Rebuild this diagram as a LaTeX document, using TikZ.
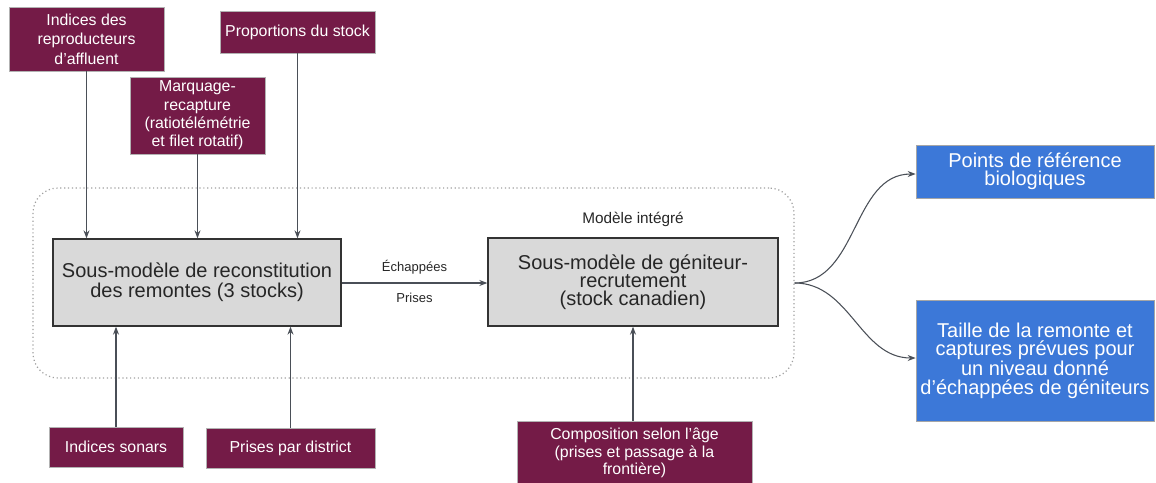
\documentclass[tikz,border=0pt]{standalone}
\usepackage{fontspec}
\setmainfont{Liberation Sans}
\usetikzlibrary{arrows.meta}
\usetikzlibrary{positioning}

\definecolor{sourcefill}{HTML}{741B47}
\definecolor{resultfill}{HTML}{3C78D8}
\definecolor{modelfill}{HTML}{D9D9D9}
\definecolor{linkgray}{HTML}{4A4F57}

\begin{document}
\begin{tikzpicture}[
    x=0.75pt, y=-0.75pt,
    source/.style={draw=gray!60, line width=0.5pt, fill=sourcefill, text=white, align=center, inner sep=0pt, font=\fontsize{11.9}{14.5}\selectfont},
    submodel/.style={draw=black!80, line width=1pt, fill=modelfill, text=black!85, align=center, inner sep=0pt, font=\fontsize{15}{15}\selectfont},
    result/.style={draw=gray!70, line width=0.5pt, fill=resultfill, text=white, align=center, inner sep=0pt, font=\fontsize{15}{13.8}\selectfont},
    link/.style={-{Stealth[length=6pt, width=4.5pt]}, draw=linkgray, line width=0.8pt},
    linklabel/.style={font=\fontsize{9.75}{10}\selectfont, text=black!85}
]

    \useasboundingbox (0,0) rectangle (1156,482);

    % Integrated model (dotted frame)
    \node (integ) [draw=gray!75, dotted, line width=0.9pt, rounded corners=18.75pt, minimum width=570.75pt, minimum height=142.5pt] at (413.5,283) {};
    \node (integlabel) [font=\fontsize{11.5}{12}\selectfont, text=black!85] at (633,219) {Modèle intégré};

    % Sub-models
    \node (reco) [submodel, minimum width=216pt, minimum height=65.25pt] at (197,282.5) {Sous-modèle de reconstitution\\des remontes (3 stocks)};
    \node (geni) [submodel, minimum width=217.5pt, minimum height=66pt, font=\fontsize{15}{13.6}\selectfont] at (633,282) {Sous-modèle de géniteur-\\recrutement\\(stock canadien)};

    % Data sources above
    \node (affl) [source, minimum width=116.25pt, minimum height=48pt] at (86.5,39) {Indices des\\reproducteurs\\d’affluent};
    \node (prop) [source, minimum width=116.25pt, minimum height=31.5pt] at (297.5,32) {Proportions du stock};
    \node (marq) [source, minimum width=101.25pt, minimum height=57.75pt, font=\fontsize{11.9}{13.8}\selectfont] at (197.5,115.5) {Marquage-\\recapture\\(ratiotélémétrie\\et filet rotatif)};

    % Data sources below
    \node (sonar) [source, minimum width=100.5pt, minimum height=30pt] at (116,447) {Indices sonars};
    \node (distr) [source, minimum width=126.75pt, minimum height=30pt] at (290.5,448) {Prises par district};
    \node (compo) [source, minimum width=176.25pt, minimum height=47.25pt, font=\fontsize{11.9}{13.2}\selectfont] at (634.5,453) {Composition selon l’âge\\(prises et passage à la\\frontière)};

    % Results
    \node (pref) [result, minimum width=178.5pt, minimum height=39.75pt] at (1035,171.5) {Points de référence\\biologiques};
    \node (taille) [result, minimum width=178.5pt, minimum height=90.75pt] at (1035,360.5) {Taille de la remonte et\\captures prévues pour\\un niveau donné\\d’échappées de géniteurs};

    % Inputs into the reconstitution sub-model
    \draw[link] (affl.south) -- (affl.south |- reco.north);
    \draw[link] (marq.south) -- (marq.south |- reco.north);
    \draw[link] (prop.south) -- (prop.south |- reco.north);
    \draw[link] (sonar.north) -- (sonar.north |- reco.south);
    \draw[link] (distr.north) -- (distr.north |- reco.south);

    % Reconstitution to spawner-recruit
    \draw[link] (reco.east |- 0,283) -- node[linklabel, above=2.5pt] (esc) {Échappées} node[linklabel, below=4pt] (pris) {Prises} (geni.west |- 0,283);
    \draw[link] (compo.north -| geni.south) -- (geni.south);

    % Outputs of the integrated model
    \draw[link] (integ.east) to[out=0, in=180] (pref.west |- 0,174);
    \draw[link] (integ.east) to[out=0, in=180] (taille.west |- 0,358);

\end{tikzpicture}
\end{document}
